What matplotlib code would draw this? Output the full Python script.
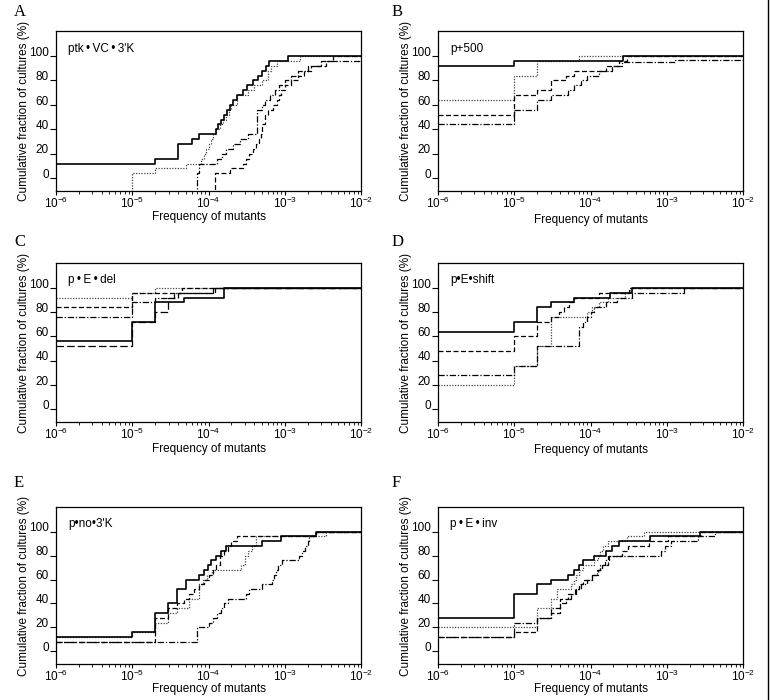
import matplotlib
matplotlib.use('Agg')
import matplotlib.pyplot as plt
import matplotlib.transforms as mtransforms
from matplotlib.lines import Line2D

plt.rcParams['font.family'] = ['Liberation Sans', 'DejaVu Sans']
plt.rcParams['mathtext.default'] = 'regular'

# ---- data: frequency of mutants at each step, cumulative % of cultures after the step
# panel A  ptk-VC-3'K
a_solid_f = [1e-6, 2e-5, 4e-5, 6e-5, 7.5e-5, 1.25e-4, 1.35e-4, 1.45e-4, 1.6e-4, 1.75e-4, 1.9e-4,
             2.1e-4, 2.4e-4, 2.8e-4, 3.2e-4, 3.8e-4, 4.4e-4, 5e-4, 5.6e-4, 6.2e-4, 1.1e-3]
a_solid_p = [12, 16, 28, 32, 36, 40, 44, 48, 52, 56, 60, 64, 68, 72, 76, 80, 84, 88, 92, 96, 100]
a_dot_f = [1e-5, 2e-5, 5e-5, 8e-5, 8.7e-5, 9.3e-5, 1e-4, 1.07e-4, 1.15e-4, 1.25e-4, 1.4e-4, 1.55e-4,
           1.7e-4, 1.85e-4, 2e-4, 2.4e-4, 3.3e-4, 4e-4, 5e-4, 6e-4, 6.6e-4, 8e-4, 1.6e-3]
a_dot_p = [4, 8, 12, 16, 20, 24, 28, 32, 36, 40, 44, 48, 52, 56, 60, 68, 72, 76, 80, 88, 92, 96, 100]
a_dashdot_f = [7e-5, 7.5e-5, 1.3e-4, 1.5e-4, 1.7e-4, 2.1e-4, 2.6e-4, 3.3e-4, 4.3e-4, 5e-4, 5.5e-4,
               6.5e-4, 7.5e-4, 8.5e-4, 1e-3, 1.2e-3, 1.5e-3, 2e-3, 3e-3]
a_dashdot_p = [4, 12, 16, 20, 24, 28, 32, 36, 56, 60, 64, 68, 72, 76, 80, 84, 88, 92, 96]
a_dash_f = [1.2e-4, 1.9e-4, 2.8e-4, 3.1e-4, 3.4e-4, 3.8e-4, 4.2e-4, 4.6e-4, 4.9e-4, 5.1e-4, 5.5e-4,
            6e-4, 7e-4, 8e-4, 8.5e-4, 9e-4, 1e-3, 1.2e-3, 1.5e-3, 1.8e-3, 2.2e-3, 3.5e-3, 4.3e-3]
a_dash_p = [4, 8, 12, 16, 20, 24, 28, 32, 36, 44, 52, 56, 60, 64, 68, 72, 76, 80, 84, 88, 92, 96, 100]

# panel B  p+500
b_solid_f = [1e-6, 1e-5, 2.7e-4]
b_solid_p = [92, 96, 100]
b_dot_f = [1e-6, 1e-5, 2e-5, 7e-5]
b_dot_p = [64, 84, 96, 100]
b_dash_f = [1e-6, 1e-5, 2e-5, 3e-5, 4.8e-5, 6e-5, 1.6e-4, 2.4e-4, 3e-4]
b_dash_p = [52, 68, 72, 80, 84, 88, 92, 96, 100]
b_dashdot_f = [1e-6, 1e-5, 2e-5, 3e-5, 5e-5, 6e-5, 7.5e-5, 9e-5, 1.3e-4, 1.9e-4, 2.6e-4, 1.3e-3]
b_dashdot_p = [44, 56, 64, 68, 72, 76, 80, 84, 88, 92, 95, 97]

# panel C  p-E-del
c_dot_f = [1e-6, 1e-5, 2e-5]
c_dot_p = [92, 96, 100]
c_dash_f = [1e-6, 1e-5, 4.5e-5]
c_dash_p = [84, 96, 100]
c_dashdot_f = [1e-6, 1e-5, 2e-5, 3.5e-5, 1.15e-4]
c_dashdot_p = [76, 88, 92, 96, 100]
c_solid_f = [1e-6, 1e-5, 2e-5, 4.8e-5, 1.6e-4]
c_solid_p = [56, 72, 88, 92, 100]
c_long_f = [1e-6, 1e-5, 2e-5, 2.9e-5, 4e-5, 1.2e-4]
c_long_p = [52, 72, 80, 92, 96, 100]

# panel D  p-E-shift
d_solid_f = [1e-6, 1e-5, 2e-5, 3e-5, 6e-5, 1.8e-4, 3.5e-4]
d_solid_p = [64, 72, 84, 88, 92, 96, 100]
d_dash_f = [1e-6, 1e-5, 2e-5, 3e-5, 3.9e-5, 4.5e-5, 5.2e-5, 6e-5, 1.3e-4, 3.2e-4]
d_dash_p = [48, 60, 72, 76, 80, 84, 88, 92, 96, 100]
d_dot_f = [1e-6, 1e-5, 2e-5, 3e-5, 9e-5, 1.05e-4, 1.3e-4, 1.7e-4, 2.8e-4, 3.3e-4]
d_dot_p = [20, 36, 52, 76, 80, 84, 88, 92, 96, 100]
d_dashdot_f = [1e-6, 1e-5, 2e-5, 7e-5, 8e-5, 9e-5, 1e-4, 1.1e-4, 1.6e-4, 2.2e-4, 3.5e-4, 1.7e-3]
d_dashdot_p = [28, 36, 52, 68, 72, 76, 80, 84, 88, 92, 96, 100]

# panel E  p-no-3'K
e_solid_f = [1e-6, 1e-5, 2e-5, 2.9e-5, 3.9e-5, 5e-5, 7.6e-5, 8.8e-5, 9.8e-5, 1.07e-4, 1.26e-4,
             1.45e-4, 1.7e-4, 5.1e-4, 8.9e-4, 2.6e-3]
e_solid_p = [12, 16, 32, 40, 52, 60, 64, 68, 72, 76, 80, 84, 88, 92, 96, 100]
e_dash_f = [1e-6, 2e-5, 2.9e-5, 3.9e-5, 4.8e-5, 5.6e-5, 6.5e-5, 7.6e-5, 8.8e-5, 1.02e-4, 1.14e-4,
            1.26e-4, 1.4e-4, 1.62e-4, 1.78e-4, 2e-4, 2.4e-4, 2.6e-3]
e_dash_p = [8, 28, 36, 40, 44, 48, 52, 56, 60, 64, 68, 72, 80, 84, 88, 92, 96, 100]
e_dot_f = [1e-6, 1e-5, 2e-5, 2.9e-5, 3.9e-5, 5.5e-5, 7.6e-5, 8.5e-5, 9.5e-5, 1.1e-4, 2.7e-4, 3e-4,
           3.3e-4, 3.7e-4, 4.2e-4, 3.5e-3]
e_dot_p = [12, 16, 24, 32, 36, 44, 56, 60, 64, 68, 72, 80, 84, 88, 96, 100]
e_dashdot_f = [1e-6, 7e-5, 1e-4, 1.15e-4, 1.3e-4, 1.45e-4, 1.6e-4, 1.8e-4, 3.1e-4, 3.4e-4, 5.1e-4,
               6.8e-4, 7.2e-4, 7.6e-4, 8.2e-4, 9.3e-4, 1.55e-3, 1.7e-3, 1.85e-3, 2e-3, 2.1e-3, 2.6e-3]
e_dashdot_p = [8, 20, 24, 28, 32, 36, 40, 44, 48, 52, 56, 60, 64, 68, 72, 76, 80, 84, 88, 92, 96, 100]

# panel F  p-E-inv
f_solid_f = [1e-6, 1e-5, 2e-5, 3e-5, 5e-5, 6e-5, 7e-5, 8e-5, 1.1e-4, 1.6e-4, 1.9e-4, 2.4e-4, 6e-4, 2.7e-3]
f_solid_p = [28, 48, 56, 60, 64, 68, 72, 76, 80, 84, 88, 92, 96, 100]
f_dot_f = [1e-6, 2e-5, 3e-5, 3.6e-5, 5.5e-5, 6e-5, 6.5e-5, 7e-5, 8e-5, 1.1e-4, 1.25e-4, 1.35e-4,
           1.45e-4, 1.7e-4, 3e-4, 5e-4]
f_dot_p = [20, 36, 44, 52, 56, 60, 64, 68, 72, 76, 80, 84, 88, 92, 96, 100]
f_dash_f = [1e-6, 1e-5, 2e-5, 3e-5, 4e-5, 5e-5, 6.3e-5, 7e-5, 8e-5, 1.05e-4, 1.25e-4, 1.4e-4, 1.7e-4,
            2.6e-4, 3.1e-4, 5.8e-4, 1.05e-3, 2.85e-3]
f_dash_p = [12, 16, 28, 32, 44, 48, 52, 56, 60, 64, 68, 72, 80, 84, 88, 92, 96, 100]
f_dashdot_f = [1e-6, 1e-5, 2e-5, 3e-5, 4e-5, 4.8e-5, 5.5e-5, 6.5e-5, 7.5e-5, 9e-5, 1.05e-4, 1.2e-4,
               1.35e-4, 1.55e-4, 1.75e-4, 8.5e-4, 9.5e-4, 1.15e-3, 2.6e-3, 4.3e-3]
f_dashdot_p = [12, 24, 28, 36, 40, 44, 48, 52, 56, 60, 64, 68, 72, 76, 80, 84, 88, 92, 96, 100]

panel_letters = ['A', 'B', 'C', 'D', 'E', 'F']
ts = '\u2009'
panel_names = ["ptk" + ts + "\u2022" + ts + "VC" + ts + "\u2022" + ts + "3'K", 'p+500',
               'p' + ts + '\u2022' + ts + 'E' + ts + '\u2022' + ts + 'del',
               'p\u2022E\u2022shift', "p\u2022no\u20223'K",
               'p' + ts + '\u2022' + ts + 'E' + ts + '\u2022' + ts + 'inv']

# line styles
SOLID = dict(color='black', lw=1.2, ls='-')
DOT = dict(color='#444444', lw=0.9, ls=(0, (1, 1.2)))
DASH = dict(color='black', lw=0.9, ls=(0, (4, 2)))
LONG = dict(color='black', lw=0.9, ls=(0, (6, 2.5)))
DASHDOT = dict(color='black', lw=0.9, ls=(0, (5, 1.5, 1, 1.5)))

curves = [
    [(a_dot_f, a_dot_p, DOT), (a_dashdot_f, a_dashdot_p, DASHDOT), (a_dash_f, a_dash_p, DASH),
     (a_solid_f, a_solid_p, SOLID)],
    [(b_dot_f, b_dot_p, DOT), (b_dash_f, b_dash_p, DASH), (b_dashdot_f, b_dashdot_p, DASHDOT),
     (b_solid_f, b_solid_p, SOLID)],
    [(c_dot_f, c_dot_p, DOT), (c_dash_f, c_dash_p, DASH), (c_dashdot_f, c_dashdot_p, DASHDOT),
     (c_long_f, c_long_p, LONG), (c_solid_f, c_solid_p, SOLID)],
    [(d_dot_f, d_dot_p, DOT), (d_dash_f, d_dash_p, DASH), (d_dashdot_f, d_dashdot_p, DASHDOT),
     (d_solid_f, d_solid_p, SOLID)],
    [(e_dot_f, e_dot_p, DOT), (e_dash_f, e_dash_p, DASH), (e_dashdot_f, e_dashdot_p, DASHDOT),
     (e_solid_f, e_solid_p, SOLID)],
    [(f_dot_f, f_dot_p, DOT), (f_dash_f, f_dash_p, DASH), (f_dashdot_f, f_dashdot_p, DASHDOT),
     (f_solid_f, f_solid_p, SOLID)],
]

XMIN, XMAX = 1e-6, 1e-2
YMIN, YMAX = -10.5, 120.5

fig = plt.figure(figsize=(7.7, 7.0), dpi=100)

lefts = [56/770, 438/770]
width = 305/770
bottoms = [1 - 191/700, 1 - 422/700, 1 - 664/700]
heights = [160/700, 159/700, 157/700]
letter_pos = [(14/770, 0.995), (392/770, 0.995), (14/770, 0.665), (392/770, 0.665),
              (14/770, 0.322), (392/770, 0.322)]
xlabel_pad = [0, 2, 0.5, 1.5, -0.5, -0.5]

up = mtransforms.ScaledTranslation(0, 3.5/72, fig.dpi_scale_trans)

for i in range(6):
    r, c = divmod(i, 2)
    ax = fig.add_axes([lefts[c], bottoms[r], width, heights[r]])
    for f, p, st in curves[i]:
        xs = list(f) + [XMAX]
        ys = list(p) + [p[-1]]
        if f[0] > XMIN:
            # curve starts from no cultures: rise from the bottom of the frame
            xs = [f[0]] + xs
            ys = [YMIN - 5] + ys
        ax.step(xs, ys, where='post', **st)
    ax.set_xscale('log')
    ax.set_xlim(XMIN, XMAX)
    ax.set_ylim(YMIN, YMAX)
    ax.set_yticks([0, 20, 40, 60, 80, 100])
    ax.set_xticks([1e-6, 1e-5, 1e-4, 1e-3, 1e-2])
    ax.set_xticklabels([r'$10^{-6}$', r'$10^{-5}$', r'$10^{-4}$', r'$10^{-3}$', r'$10^{-2}$'])
    ax.tick_params(axis='y', which='major', direction='out', length=4, width=0.8,
                   labelsize=8.5, pad=1)
    ax.tick_params(axis='x', which='major', direction='out', length=3, width=0.8,
                   labelsize=8.5, pad=0.5)
    ax.tick_params(axis='x', which='minor', direction='out', length=2.2, width=0.6)
    for lab in ax.get_yticklabels():
        lab.set_transform(lab.get_transform() + up)
    for s in ax.spines.values():
        s.set_linewidth(0.9)
    ax.set_xlabel('Frequency of mutants', fontsize=8.5, labelpad=xlabel_pad[i])
    ax.set_ylabel('Cumulative fraction of cultures (%)', fontsize=8.5, labelpad=-0.5)
    ax.text(0.04, 0.89, panel_names[i], transform=ax.transAxes, fontsize=8.5,
            ha='left', va='center')
    fig.text(letter_pos[i][0], letter_pos[i][1], panel_letters[i], family='Liberation Serif',
             fontsize=12, ha='left', va='top')

# scan border on the right edge
fig.add_artist(Line2D([768/770, 768/770], [0, 1], color='black', lw=1.0))

fig.savefig('out.png', dpi=100)
